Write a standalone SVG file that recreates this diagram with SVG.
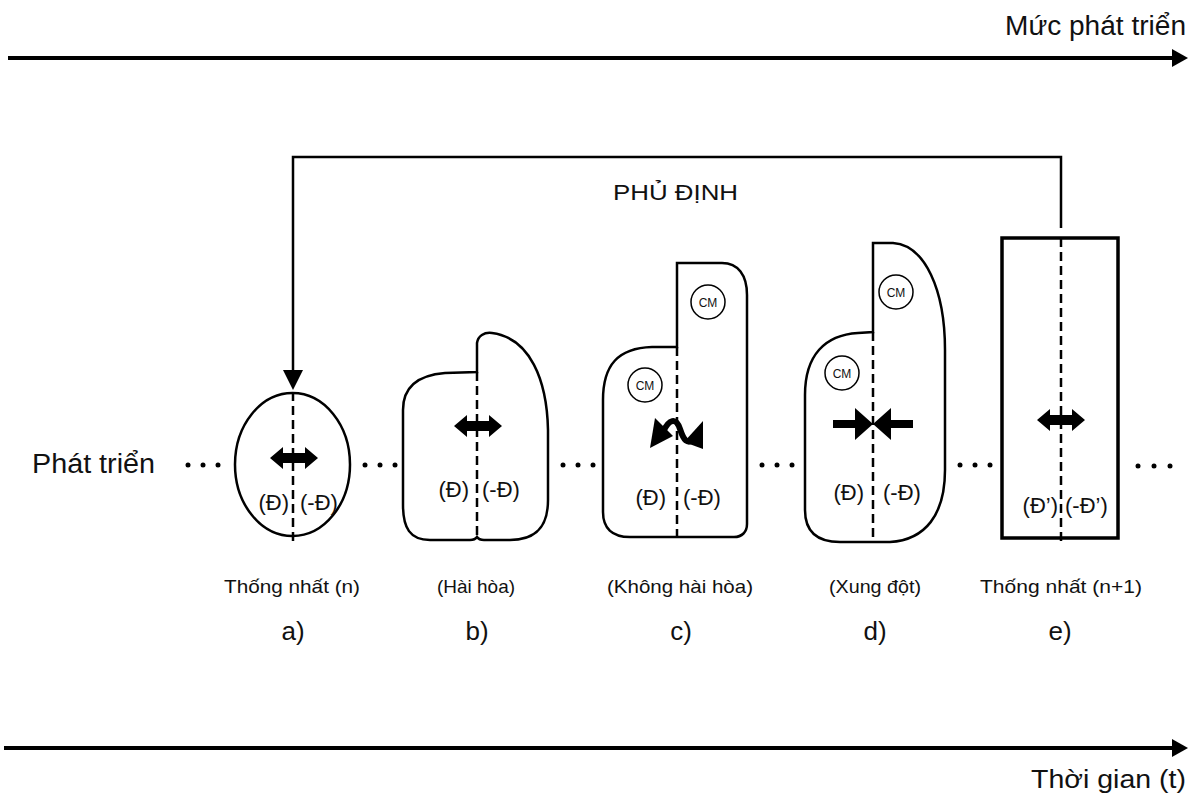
<svg xmlns="http://www.w3.org/2000/svg" width="1198" height="797" viewBox="0 0 1198 797">
<style>
.t{font-family:"Liberation Sans",Arial,sans-serif;fill:#111}
.lbl{font-size:22px}
.cap{font-size:19px}
.let{font-size:26px}
.shape{fill:#fff;stroke:#000;stroke-width:2.5}
.dash{stroke:#000;stroke-width:2.5;stroke-dasharray:9 5;fill:none}
.cm{fill:#fff;stroke:#000;stroke-width:1.5}
.cmt{font-family:"Liberation Sans",Arial,sans-serif;font-size:12px;fill:#111}
.dot{fill:#000}
</style>
<defs>
<path id="dbl" d="M -24 0 L -11 -11 L -11 -5 L 11 -5 L 11 -11 L 24 0 L 11 11 L 11 5 L -11 5 L -11 11 Z" fill="#000"/>
</defs>
<rect width="1198" height="797" fill="#fff"/>

<g id="connectors">
  <line x1="8" y1="58" x2="1176" y2="58" stroke="#000" stroke-width="4"/>
  <polygon points="1188,58 1172,49 1172,67" fill="#000"/>
  <line x1="4" y1="748" x2="1176" y2="748" stroke="#000" stroke-width="4"/>
  <polygon points="1188,748 1172,739 1172,757" fill="#000"/>
  <polyline points="1061,228 1061,157 293,157 293,372" fill="none" stroke="#000" stroke-width="2.5"/>
  <polygon points="283,370 303,370 293,390" fill="#000"/>
</g>

<g id="axis-labels">
  <text class="t" x="1186" y="35" font-size="27" text-anchor="end" textLength="181" lengthAdjust="spacingAndGlyphs">Mức phát triển</text>
  <text class="t" x="1186" y="788" font-size="26" text-anchor="end" textLength="155" lengthAdjust="spacingAndGlyphs">Thời gian (t)</text>
  <text class="t" x="32" y="473" font-size="27" textLength="123" lengthAdjust="spacingAndGlyphs">Phát triển</text>
  <text class="t" x="613" y="200" font-size="22" textLength="125" lengthAdjust="spacingAndGlyphs">PHỦ ĐỊNH</text>
</g>

<g id="dots">
  <circle class="dot" cx="188" cy="465" r="2.5"/><circle class="dot" cx="203" cy="465" r="2.5"/><circle class="dot" cx="218" cy="465" r="2.5"/>
  <circle class="dot" cx="365" cy="465" r="2.5"/><circle class="dot" cx="380" cy="465" r="2.5"/><circle class="dot" cx="395" cy="465" r="2.5"/>
  <circle class="dot" cx="563" cy="465" r="2.5"/><circle class="dot" cx="578" cy="465" r="2.5"/><circle class="dot" cx="593" cy="465" r="2.5"/>
  <circle class="dot" cx="762" cy="465" r="2.5"/><circle class="dot" cx="777" cy="465" r="2.5"/><circle class="dot" cx="792" cy="465" r="2.5"/>
  <circle class="dot" cx="960" cy="465" r="2.5"/><circle class="dot" cx="975" cy="465" r="2.5"/><circle class="dot" cx="990" cy="465" r="2.5"/>
  <circle class="dot" cx="1138" cy="466" r="2.5"/><circle class="dot" cx="1154" cy="466" r="2.5"/><circle class="dot" cx="1170" cy="466" r="2.5"/>
</g>

<g id="node-a">
  <ellipse class="shape" cx="292.5" cy="464.5" rx="57.5" ry="71.5"/>
  <line class="dash" x1="293" y1="392" x2="293" y2="543"/>
  <use href="#dbl" x="294" y="458"/>
  <text class="t lbl" x="289" y="510" text-anchor="end">(Đ)</text>
  <text class="t lbl" x="300" y="510">(-Đ)</text>
  <text class="t cap" x="292" y="593" text-anchor="middle" textLength="136" lengthAdjust="spacingAndGlyphs">Thống nhất (n)</text>
  <text class="t let" x="293" y="640" text-anchor="middle">a)</text>
</g>

<g id="node-b">
  <path class="shape" d="M 477 372 L 477 343 C 478 336 484 332 492 333 C 530 338 547 380 548 430 L 548 500 C 548 528 535 540 510 540 L 484 540 Q 479 540 477 537 Q 475 540 470 540 L 430 540 C 410 540 403 528 403 505 L 403 410 C 403 385 420 375 445 373 Z"/>
  <line class="dash" x1="477" y1="372" x2="477" y2="538"/>
  <use href="#dbl" x="478" y="426"/>
  <text class="t lbl" x="469" y="497" text-anchor="end">(Đ)</text>
  <text class="t lbl" x="482" y="497">(-Đ)</text>
  <text class="t cap" x="476" y="593" text-anchor="middle" textLength="78" lengthAdjust="spacingAndGlyphs">(Hài hòa)</text>
  <text class="t let" x="477" y="640" text-anchor="middle">b)</text>
</g>

<g id="node-c">
  <path class="shape" d="M 677 347 L 677 263 L 722 263 C 738 263 747 275 747 295 L 747 524 C 747 532 742 537 734 537 L 630 537 C 612 537 603 528 603 512 L 603 400 C 603 365 618 348 652 347 Z"/>
  <line class="dash" x1="677" y1="347" x2="677" y2="537"/>
  <circle class="cm" cx="708" cy="302" r="17"/>
  <text class="cmt" x="708" y="306.5" text-anchor="middle">CM</text>
  <circle class="cm" cx="645" cy="385" r="17"/>
  <text class="cmt" x="645" y="389.5" text-anchor="middle">CM</text>
  <polygon points="650,448 655,418 673,436" fill="#000"/>
  <path d="M 663 432 C 669 419 676 417 680 429 S 687 444 694 440" fill="none" stroke="#000" stroke-width="6"/>
  <polygon points="684,442 703,421 703,449" fill="#000"/>
  <text class="t lbl" x="666" y="505" text-anchor="end">(Đ)</text>
  <text class="t lbl" x="683" y="505">(-Đ)</text>
  <text class="t cap" x="680" y="593" text-anchor="middle" textLength="146" lengthAdjust="spacingAndGlyphs">(Không hài hòa)</text>
  <text class="t let" x="681" y="640" text-anchor="middle">c)</text>
</g>

<g id="node-d">
  <path class="shape" d="M 873 332 L 873 243 L 893 243 C 925 245 945 290 945 350 L 945 470 C 945 515 925 540 890 542 L 840 542 C 815 542 805 530 805 510 L 805 395 C 805 355 825 335 858 333 Z"/>
  <line class="dash" x1="873" y1="332" x2="873" y2="542"/>
  <circle class="cm" cx="896" cy="292" r="17"/>
  <text class="cmt" x="896" y="296.5" text-anchor="middle">CM</text>
  <circle class="cm" cx="842" cy="373" r="17"/>
  <text class="cmt" x="842" y="377.5" text-anchor="middle">CM</text>
  <rect x="833" y="420" width="24" height="8" fill="#000"/>
  <polygon points="855,408 873,424 855,440" fill="#000"/>
  <polygon points="873,424 891,408 891,440" fill="#000"/>
  <rect x="889" y="420" width="24" height="8" fill="#000"/>
  <text class="t lbl" x="864" y="500" text-anchor="end">(Đ)</text>
  <text class="t lbl" x="883" y="500">(-Đ)</text>
  <text class="t cap" x="875" y="593" text-anchor="middle" textLength="92" lengthAdjust="spacingAndGlyphs">(Xung đột)</text>
  <text class="t let" x="875" y="640" text-anchor="middle">d)</text>
</g>

<g id="node-e">
  <rect x="1002" y="238" width="116" height="300" fill="#fff" stroke="#000" stroke-width="3.5"/>
  <line class="dash" x1="1061" y1="238" x2="1061" y2="544"/>
  <use href="#dbl" x="1061" y="420"/>
  <text class="t lbl" x="1058" y="513" text-anchor="end">(Đ’)</text>
  <text class="t lbl" x="1065" y="513">(-Đ’)</text>
  <text class="t cap" x="1061" y="593" text-anchor="middle" textLength="162" lengthAdjust="spacingAndGlyphs">Thống nhất (n+1)</text>
  <text class="t let" x="1060" y="640" text-anchor="middle">e)</text>
</g>
</svg>
